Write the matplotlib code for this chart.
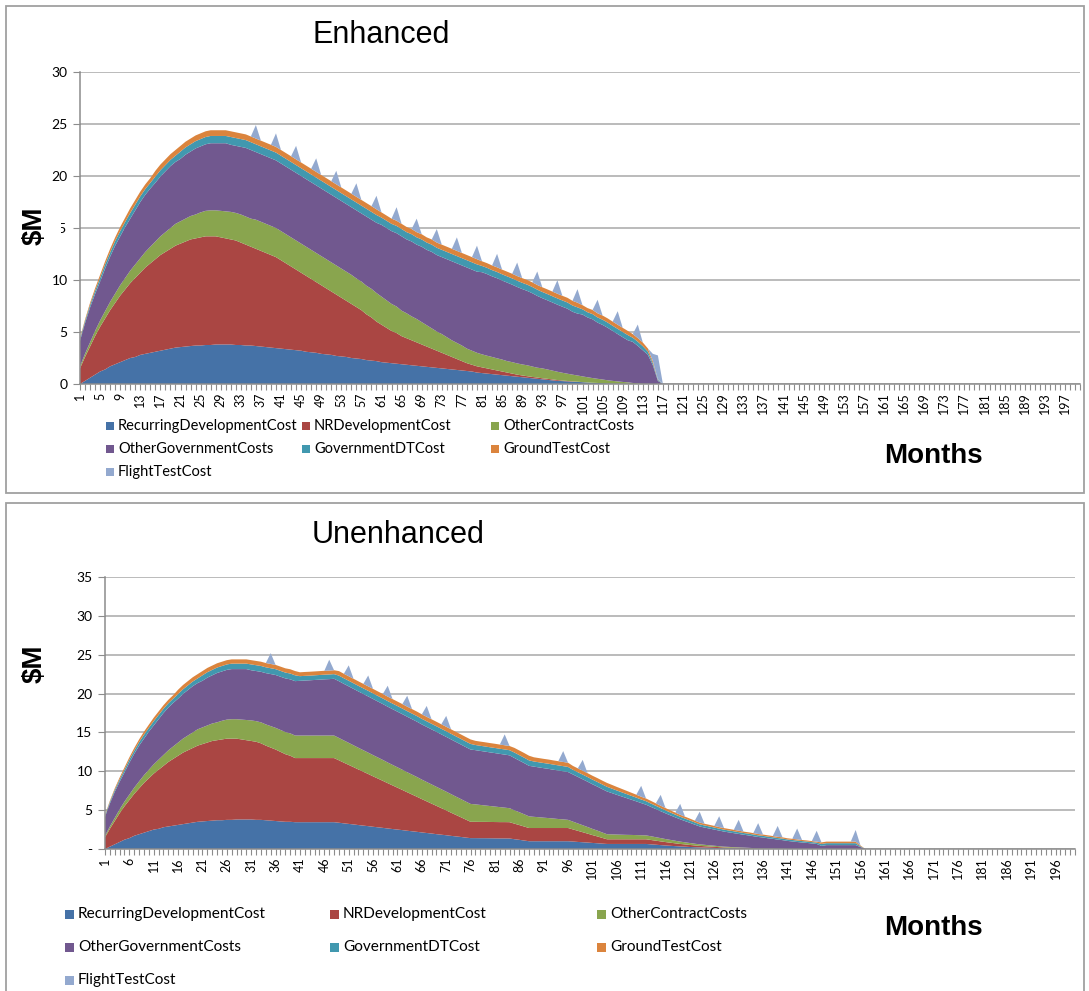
import numpy as np
import matplotlib.pyplot as plt
from matplotlib.patches import Rectangle

plt.rcParams['font.family'] = ['Lato', 'DejaVu Sans']

series_names = ["RecurringDevelopmentCost", "NRDevelopmentCost", "OtherContractCosts",
                "OtherGovernmentCosts", "GovernmentDTCost", "GroundTestCost", "FlightTestCost"]
colors = ["#4572A7", "#AA4643", "#89A54E", "#71588F", "#4198AF", "#DB843D", "#93A9CF"]
all_months = list(range(1, 201))

# months 1-33 look the same in both runs
ramp_rec = [0.0, 0.3, 0.6, 0.9, 1.2, 1.4, 1.7, 1.9, 2.1, 2.3,
            2.5, 2.6, 2.8, 2.9, 3.0, 3.1, 3.2, 3.3, 3.4, 3.5,
            3.55, 3.6, 3.65, 3.7, 3.7, 3.75, 3.75, 3.8, 3.8, 3.8,
            3.8, 3.75, 3.75]
ramp_nr = [1.5, 2.3, 3.0, 3.7, 4.3, 4.9, 5.4, 5.9, 6.4, 6.8,
           7.2, 7.6, 7.9, 8.3, 8.6, 8.9, 9.2, 9.4, 9.6, 9.8,
           9.95, 10.1, 10.25, 10.3, 10.4, 10.45, 10.45, 10.4, 10.3, 10.2,
           10.1, 10.05, 9.85]
ramp_oc = [0.2, 0.3, 0.4, 0.5, 0.6, 0.7, 0.8, 0.9, 1.0, 1.1,
           1.2, 1.3, 1.4, 1.5, 1.6, 1.7, 1.8, 1.9, 2.0, 2.1,
           2.15, 2.2, 2.25, 2.3, 2.4, 2.45, 2.5, 2.5, 2.55, 2.6,
           2.65, 2.65, 2.7]
ramp_og = [2.45, 2.95, 3.35, 3.55, 3.75, 4.1, 4.35, 4.6, 4.7, 4.9,
           5.0, 5.2, 5.4, 5.5, 5.6, 5.65, 5.75, 5.85, 5.95, 5.95,
           6.0, 6.15, 6.2, 6.35, 6.35, 6.4, 6.45, 6.45, 6.5, 6.55,
           6.45, 6.45, 6.5]
ramp_gdt = [0.15, 0.2, 0.25, 0.3, 0.35, 0.4, 0.4, 0.45, 0.5, 0.5] + [0.55]*5 + [0.6]*5 + [0.7]*10 + [0.75]*3
ramp_gt = [0.1, 0.15, 0.2, 0.25, 0.3, 0.3, 0.35, 0.35, 0.4, 0.4] + [0.45]*5 + [0.55]*18

# Enhanced, months 1-117
enh_rec = ramp_rec + [3.7, 3.7, 3.65, 3.6, 3.55, 3.5, 3.45,
    3.4, 3.35, 3.3, 3.25, 3.2, 3.1, 3.05, 3.0, 2.9, 2.85,
    2.8, 2.7, 2.65, 2.6, 2.5, 2.45, 2.4, 2.3, 2.25, 2.2,
    2.1, 2.05, 2.0, 1.95, 1.9, 1.85, 1.8, 1.75, 1.7, 1.65,
    1.6, 1.55, 1.5, 1.45, 1.4, 1.35, 1.3, 1.25, 1.2, 1.1,
    1.05, 1.0, 0.95, 0.9, 0.85, 0.8, 0.75, 0.7, 0.65, 0.6,
    0.55, 0.5, 0.45, 0.4, 0.35, 0.3, 0.28, 0.25, 0.22, 0.2,
    0.17, 0.14, 0.12, 0.1, 0.08, 0.06, 0.04, 0.03, 0.02, 0.01,
    0, 0, 0, 0, 0, 0, 0]
enh_nr = ramp_nr + [9.7, 9.5, 9.35, 9.2, 9.05, 8.9, 8.75,
    8.5, 8.25, 8.0, 7.75, 7.5, 7.3, 7.05, 6.8, 6.6, 6.35,
    6.1, 5.9, 5.65, 5.4, 5.2, 4.95, 4.7, 4.4, 4.15, 3.8,
    3.6, 3.35, 3.1, 2.95, 2.7, 2.55, 2.4, 2.25, 2.1, 1.95,
    1.8, 1.65, 1.5, 1.35, 1.2, 1.05, 0.9, 0.75, 0.65, 0.6,
    0.55, 0.5, 0.45, 0.4, 0.35, 0.3, 0.25, 0.2, 0.17, 0.15,
    0.13, 0.12, 0.1, 0.1, 0.09, 0.08, 0.05, 0.04, 0.03, 0.02,
    0.01, 0.01] + [0]*15
enh_oc = ramp_oc + [2.7, 2.7, 2.8, 2.8, 2.8, 2.8, 2.8] + [2.8]*15 + [2.75]*5 + [
    2.7, 2.65, 2.6, 2.55, 2.45, 2.4, 2.3, 2.25, 2.15, 2.05,
    1.95, 1.85, 1.8, 1.7, 1.6, 1.55, 1.5, 1.4, 1.35, 1.3,
    1.25, 1.22, 1.2, 1.17, 1.15, 1.1, 1.1, 1.08, 1.06, 1.05,
    1.0, 0.95, 0.95, 0.9, 0.85, 0.8, 0.75, 0.7, 0.65, 0.6,
    0.55, 0.5, 0.45, 0.4, 0.35, 0.3, 0.26, 0.22, 0.18, 0.15,
    0.1, 0.07, 0.04, 0.02, 0, 0, 0]
enh_og = ramp_og + [6.6, 6.6, 6.5, 6.5, 6.5, 6.5, 6.5] + [6.5]*15 + [
    6.55, 6.55, 6.65, 6.65, 6.75,
    6.9, 6.95, 7.0, 7.05, 7.15, 7.1, 7.2, 7.15, 7.25, 7.25,
    7.35, 7.35, 7.4, 7.5, 7.6, 7.65, 7.7, 7.8, 7.8, 7.8,
    7.9, 7.85, 7.75, 7.7, 7.6, 7.55, 7.45, 7.35, 7.25, 7.15,
    7.05, 6.9, 6.75, 6.65, 6.55, 6.45, 6.35, 6.25, 6.05, 5.95,
    5.95, 5.75, 5.65, 5.4, 5.25, 5.05, 4.8, 4.55, 4.3, 4.05,
    3.95, 3.6, 3.2, 2.8, 1.8, 0.3, 0]
enh_gdt = ramp_gdt + [0.75]*27 + [0.7]*20 + [0.6]*20 + [0.5]*10 + [0.4, 0.4, 0.4, 0.3, 0.2, 0.1, 0]
enh_gt = ramp_gt + [0.55]*27 + [0.5]*20 + [0.45]*20 + [0.4]*10 + [0.35, 0.35, 0.35, 0.3, 0.2, 0.05, 0]
enh_ft_months = [36, 40, 44, 48, 52, 56, 60, 64, 68, 72, 76, 80, 84, 88, 92, 96, 100, 104, 108, 112, 115, 116]
enh_ft_vals = [1.3]*20 + [0.7, 2.3]

# Unenhanced, months 1-157
un_rec = ramp_rec + [3.7, 3.65, 3.6, 3.55, 3.5, 3.5, 3.45] + [3.45]*8 + [
    3.38, 3.3, 3.23, 3.16, 3.08, 3.01, 2.94, 2.86, 2.79, 2.72,
    2.64, 2.57, 2.5, 2.43, 2.35, 2.28, 2.21, 2.13, 2.06, 1.99,
    1.91, 1.84, 1.77, 1.69, 1.62, 1.55, 1.47, 1.4,
    1.4, 1.39, 1.39, 1.38, 1.37, 1.36, 1.36, 1.35,
    1.26, 1.18, 1.09, 1.0] + [1.0]*8 + [
    0.96, 0.91, 0.87, 0.83, 0.78, 0.74, 0.69, 0.65] + [0.65]*8 + [
    0.6, 0.55, 0.5, 0.45, 0.41, 0.37, 0.33, 0.3, 0.26, 0.23, 0.2,
    0.18, 0.16, 0.14, 0.12, 0.1, 0.09, 0.08, 0.07, 0.06, 0.05,
    0.04, 0.03, 0.03, 0.02, 0.02, 0.01, 0.01] + [0]*17
un_nr = ramp_nr + [9.6, 9.4, 9.2, 8.95, 8.7, 8.5, 8.25] + [8.25]*8 + [
    8.03, 7.81, 7.59, 7.37, 7.15, 6.93, 6.71, 6.49, 6.27, 6.05,
    5.83, 5.61, 5.39, 5.17, 4.95, 4.73, 4.51, 4.29, 4.07, 3.85,
    3.64, 3.42, 3.2, 2.98, 2.76, 2.54, 2.32, 2.1] + [2.1]*8 + [
    2.0, 1.9, 1.8, 1.7] + [1.7]*8 + [
    1.56, 1.43, 1.29, 1.15, 1.01, 0.88, 0.74, 0.6] + [0.6]*8 + [
    0.56, 0.52, 0.48, 0.44, 0.4, 0.36, 0.32, 0.29, 0.26, 0.23, 0.2,
    0.18, 0.16, 0.14, 0.12, 0.1, 0.09, 0.08, 0.07, 0.06, 0.05,
    0.04, 0.03, 0.03, 0.02, 0.02, 0.01, 0.01] + [0]*17
un_oc = ramp_oc + [2.73, 2.76, 2.79, 2.82, 2.85, 2.88, 2.9] + [2.9]*8 + [
    2.88, 2.86, 2.84, 2.81, 2.79, 2.77, 2.75, 2.73, 2.71, 2.69,
    2.66, 2.64, 2.62, 2.6, 2.58, 2.56, 2.54, 2.51, 2.49, 2.47,
    2.45, 2.43, 2.41, 2.39, 2.36, 2.34, 2.32, 2.3,
    2.24, 2.18, 2.11, 2.05, 1.99, 1.93, 1.86, 1.8,
    1.72, 1.65, 1.58, 1.5,
    1.44, 1.39, 1.33, 1.28, 1.22, 1.16, 1.11, 1.05,
    1.0, 0.95, 0.9, 0.85, 0.8, 0.75, 0.7, 0.65,
    0.63, 0.61, 0.59, 0.57, 0.56, 0.54, 0.52, 0.5,
    0.48, 0.45, 0.42, 0.39, 0.36, 0.33, 0.3, 0.27, 0.25, 0.22, 0.2,
    0.18, 0.16, 0.14, 0.12, 0.1, 0.09, 0.08, 0.07, 0.06, 0.05,
    0.04, 0.03, 0.03, 0.02, 0.02, 0.01, 0.01] + [0]*17
un_og = ramp_og + [6.6, 6.7, 6.8, 6.85, 6.9, 6.95, 7.0,
    7.04, 7.08, 7.11, 7.15, 7.19, 7.23, 7.26, 7.3,
    7.3, 7.28, 7.27, 7.26, 7.25, 7.24, 7.23, 7.22, 7.2,
    7.19, 7.18, 7.17, 7.16, 7.15, 7.14, 7.13, 7.12, 7.1,
    7.09, 7.08, 7.07, 7.06, 7.05, 7.04, 7.03, 7.02, 7.01, 7.0,
    6.98, 6.95, 6.93, 6.9, 6.88, 6.85, 6.83, 6.8,
    6.73, 6.65, 6.58, 6.5,
    6.46, 6.41, 6.37, 6.33, 6.28, 6.24, 6.19, 6.15,
    6.07, 5.99, 5.91, 5.83, 5.74, 5.66, 5.58, 5.5,
    5.31, 5.11, 4.92, 4.73, 4.53, 4.34, 4.14, 3.95,
    3.78, 3.62, 3.46, 3.31, 3.16, 3.01, 2.87, 2.73, 2.6, 2.45, 2.3,
    2.22, 2.15, 2.08, 2.01, 1.94, 1.87, 1.8, 1.73, 1.66, 1.6,
    1.53, 1.46, 1.39, 1.32, 1.25, 1.18, 1.11, 1.04, 0.97, 0.9, 0.84, 0.78, 0.72, 0.65,
    0.4, 0.5, 0.5, 0.5, 0.5, 0.5, 0.5, 0.5, 0.25, 0]
un_gdt = ramp_gdt + [0.75]*7 + [0.6]*8 + [0.72]*28 + [0.66]*8 + [0.7]*4 + [0.66]*8 + [0.6]*8 + [
    0.58, 0.56, 0.54, 0.52, 0.5, 0.48, 0.46, 0.45,
    0.43, 0.42, 0.4, 0.38, 0.36, 0.35, 0.33, 0.32, 0.3, 0.29, 0.28,
    0.27, 0.27, 0.26, 0.25, 0.25, 0.24, 0.24, 0.23, 0.22, 0.22,
    0.22, 0.21, 0.21, 0.21, 0.2, 0.2, 0.2, 0.19, 0.19, 0.19, 0.18, 0.18, 0.17, 0.17,
    0.25, 0.25, 0.25, 0.25, 0.25, 0.25, 0.25, 0.25, 0.1, 0]
un_gt = ramp_gt + [0.55]*7 + [0.5]*8 + [0.58]*28 + [0.54]*8 + [0.6]*4 + [0.54]*8 + [0.5]*8 + [
    0.48, 0.46, 0.44, 0.42, 0.4, 0.38, 0.36, 0.35,
    0.34, 0.32, 0.31, 0.3, 0.28, 0.27, 0.26, 0.25, 0.24, 0.23, 0.22,
    0.22, 0.21, 0.21, 0.2, 0.2, 0.2, 0.19, 0.19, 0.18, 0.18,
    0.18, 0.17, 0.17, 0.17, 0.16, 0.16, 0.16, 0.15, 0.15, 0.15, 0.14, 0.14, 0.13, 0.13,
    0.2, 0.2, 0.2, 0.2, 0.2, 0.2, 0.2, 0.2, 0.1, 0]
un_ft_months = [35, 47, 51, 55, 59, 63, 67, 71, 83, 95, 99, 111, 115, 119, 123, 127, 131, 135, 139, 143, 147, 155]
un_ft_vals = [1.4]*21 + [1.5]

W, H = 1089, 991
fig = plt.figure(figsize=(W / 100, H / 100), dpi=100)
GRAY = '#8c8c8c'


def fig_rect(x0, y0, x1, y1):
    # pixel box (top-left origin) -> figure fraction
    return [x0 / W, 1 - y1 / H, (x1 - x0) / W, (y1 - y0) / H]


def draw_panel(ax, layers, ft_months, ft_vals, ymax, step, zero_label):
    n = len(layers[0])
    months = np.arange(1, n + 1)
    ft = np.zeros(n)
    ft[np.array(ft_months) - 1] = ft_vals
    ax.stackplot(months, *layers, ft, colors=colors, lw=0)
    ax.set_xlim(1, 200)
    ax.set_ylim(0, ymax)
    ax.set_xticks(all_months)
    ax.set_xticklabels([str(m) if (m - 1) % step == 0 else '' for m in all_months],
                       rotation=90, fontsize=9)
    yt = np.arange(0, ymax + 1, 5)
    ax.set_yticks(yt)
    ax.set_yticklabels([zero_label] + [str(v) for v in yt[1:]], fontsize=10)
    ax.tick_params(axis='x', length=4, color=GRAY, pad=2)
    ax.tick_params(axis='y', length=5, color=GRAY, pad=4)
    ax.yaxis.grid(True, color='#a8a8a8', lw=1.1)
    ax.set_axisbelow(True)
    for s in ['top', 'right']:
        ax.spines[s].set_visible(False)
    for s in ['left', 'bottom']:
        ax.spines[s].set_color(GRAY)
        ax.spines[s].set_linewidth(1.1)


def draw_legend(xs, ys, size, fs, gap):
    for i, (name, c) in enumerate(zip(series_names, colors)):
        x = xs[i % 3]
        y = ys[i // 3]
        fig.add_artist(Rectangle((x / W, 1 - (y + size / 2) / H), size / W, size / H,
                                 transform=fig.transFigure, color=c, lw=0))
        fig.text((x + size + gap) / W, 1 - y / H, name, fontsize=fs, va='center', ha='left')


# panel frames
for y0, y1 in [(6, 493), (503, 1000)]:
    fig.add_artist(Rectangle((6 / W, 1 - y1 / H), (1084 - 6) / W, (y1 - y0) / H,
                             transform=fig.transFigure, fill=False, ec='#a0a0a0', lw=1.3))

ax1 = fig.add_axes(fig_rect(80, 72, 1080, 384))
draw_panel(ax1, [enh_rec, enh_nr, enh_oc, enh_og, enh_gdt, enh_gt],
           enh_ft_months, enh_ft_vals, 30, 4, '0')
ax2 = fig.add_axes(fig_rect(105, 577, 1075, 849))
draw_panel(ax2, [un_rec, un_nr, un_oc, un_og, un_gdt, un_gt],
           un_ft_months, un_ft_vals, 35, 5, '-')

fig.text(381 / W, 1 - 35 / H, 'Enhanced', fontsize=22, family='Liberation Sans', ha='center', va='center')
fig.text(398 / W, 1 - 535 / H, 'Unenhanced', fontsize=22, family='Liberation Sans', ha='center', va='center')

# $M box covers the "1" of 15 like the original screenshot
fig.text(35 / W, 1 - 226 / H, '$M', fontsize=20, family='Liberation Sans', weight='bold',
         rotation=90, ha='center', va='center', zorder=5,
         bbox=dict(facecolor='white', edgecolor='none', pad=9))
fig.text(35 / W, 1 - 664 / H, '$M', fontsize=20, family='Liberation Sans', weight='bold',
         rotation=90, ha='center', va='center')
fig.text(933 / W, 1 - 456 / H, 'Months', fontsize=20, family='Liberation Sans', weight='bold',
         ha='center', va='center')
fig.text(933 / W, 1 - 928 / H, 'Months', fontsize=20, family='Liberation Sans', weight='bold',
         ha='center', va='center')

draw_legend([106, 302, 491], [426, 449, 472], 8, 10.5, 4)
draw_legend([65, 330, 597], [914, 947, 980], 9, 11.1, 4)

fig.savefig('out.png', dpi=100)
